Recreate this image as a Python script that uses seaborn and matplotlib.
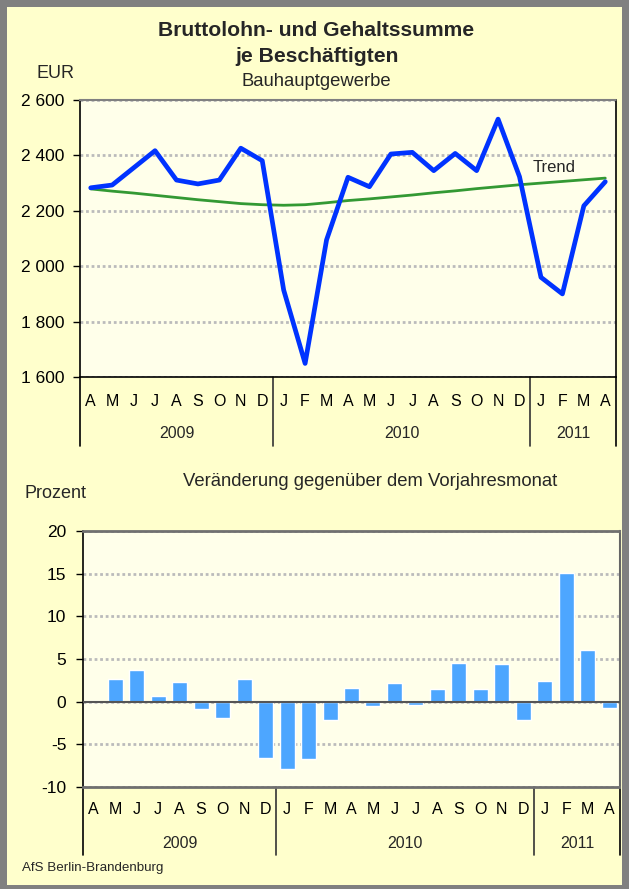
import numpy as np
import pandas as pd
import matplotlib
matplotlib.use("Agg")
import matplotlib.pyplot as plt
import seaborn as sns
from matplotlib.patches import Rectangle
from matplotlib.ticker import FuncFormatter

# ---- data ----
months = ["A", "M", "J", "J", "A", "S", "O", "N", "D",
          "J", "F", "M", "A", "M", "J", "J", "A", "S", "O", "N", "D",
          "J", "F", "M", "A"]
years = ["2009", "2010", "2011"]
year_counts = [9, 12, 4]
wages = [2283, 2293, 2355, 2417, 2311, 2297, 2311, 2426, 2381,
         1914, 1649, 2095, 2321, 2287, 2405, 2411, 2345, 2407, 2345, 2531, 2323,
         1960, 1900, 2218, 2305]
trend = [2279, 2271, 2264, 2256, 2248, 2240, 2233, 2226, 2222,
         2220, 2222, 2229, 2237, 2243, 2250, 2257, 2265, 2272, 2280, 2287, 2294,
         2300, 2306, 2312, 2318]
change = [0.1, 2.6, 3.7, 0.7, 2.3, -0.9, -1.9, 2.6, -6.6,
          -7.9, -6.7, -2.2, 1.6, -0.5, 2.2, -0.35, 1.5, 4.55, 1.5, 4.4, -2.1,
          2.45, 15.1, 6.1, -0.7]

sns.set_theme(style="white")
plt.rcParams['font.family'] = ['Liberation Sans', 'DejaVu Sans']
plt.rcParams['axes.unicode_minus'] = False

W, H = 629, 889
fig = plt.figure(figsize=(W / 100, H / 100), dpi=100, facecolor='#808080')
fig.patches.append(Rectangle((7 / W, 1 - 885 / H), 615 / W, 878 / H,
                             transform=fig.transFigure, facecolor='#FFFFCC',
                             edgecolor='none', zorder=-10))


def px_axes(left, top, right, bottom):
    return fig.add_axes([left / W, 1 - bottom / H, (right - left) / W, (bottom - top) / H])


def ftext(x, y, s, **kw):
    fig.text(x / W, 1 - y / H, s, **kw)


PLOT_BG = '#FFFFEA'
GRID = dict(color='#BBBBBB', linestyle=(0, (1, 1)), linewidth=2)

idx = np.arange(len(months))
df = pd.DataFrame({"idx": idx, "wages": wages, "trend": trend, "change": change})

# year group boundaries
bounds = np.concatenate([[-0.5], -0.5 + np.cumsum(year_counts)])
centers = (bounds[:-1] + bounds[1:]) / 2


def category_axis(ax, sep_len, year_y, pad):
    ax.set_xticks(idx)
    ax.set_xticklabels(months, fontsize=11.5)
    ax.tick_params(axis='x', length=0, pad=pad, colors='black', bottom=False)
    tr = ax.get_xaxis_transform()
    for i, b in enumerate(bounds):
        ax.plot([b, b], [0, -sep_len], transform=tr, clip_on=False,
                color='black' if i in (0, len(bounds) - 1) else '#333333', lw=1.2)
    for c, y in zip(centers, years):
        ax.text(c, year_y, y, transform=tr, ha='center', va='center', fontsize=11.5)
    ax.set_xlabel("")


# ---- top chart ----
ax1 = px_axes(80, 100, 616, 377)
ax1.set_facecolor(PLOT_BG)
sns.lineplot(data=df, x="idx", y="trend", color='#339933', lw=2, ax=ax1)
sns.lineplot(data=df, x="idx", y="wages", color='#0033FF', lw=3.4, ax=ax1)
ax1.set_xlim(-0.5, len(months) - 0.5)
ax1.set_ylim(1600, 2600)
ax1.set_yticks(np.arange(1600, 2601, 200))
ax1.yaxis.set_major_formatter(FuncFormatter(lambda v, p: f"{v:,.0f}".replace(",", " ")))
ax1.tick_params(axis='y', length=5, width=1, direction='out', left=True, pad=6,
                labelsize=12.5, colors='black')
ax1.yaxis.grid(True, **GRID)
ax1.set_axisbelow(True)
ax1.set_ylabel("")
for s in ['left', 'bottom', 'right']:
    ax1.spines[s].set_color('black')
    ax1.spines[s].set_linewidth(1.2)
ax1.spines['top'].set_color('#808080')
ax1.spines['top'].set_linestyle((0, (1, 1)))
ax1.spines['top'].set_linewidth(1.5)
category_axis(ax1, 69 / 277, -57 / 277, 12)
ax1.text(21.6, 2358, "Trend", ha='center', va='center', fontsize=12)

# ---- bottom chart ----
ax2 = px_axes(83, 531, 620, 787)
ax2.set_facecolor(PLOT_BG)
sns.barplot(data=df, x="idx", y="change", color='#4DA6FF', saturation=1,
            width=0.7, ax=ax2, zorder=2)
ax2.axhline(0, color='#555555', lw=1.5, zorder=3)
ax2.set_xlim(-0.5, len(months) - 0.5)
ax2.set_ylim(-10, 20)
ax2.set_yticks(np.arange(-10, 21, 5))
ax2.yaxis.set_major_formatter(FuncFormatter(lambda v, p: f"{v:.0f}"))
ax2.tick_params(axis='y', length=5, width=1, direction='out', left=True, pad=7,
                labelsize=12.5, colors='black')
ax2.yaxis.grid(True, **GRID)
ax2.set_axisbelow(True)
ax2.set_ylabel("")
ax2.spines['left'].set_color('black')
ax2.spines['left'].set_linewidth(1.2)
ax2.spines['right'].set_color('#666666')
ax2.spines['right'].set_linewidth(1.5)
for s in ['top', 'bottom']:
    ax2.spines[s].set_color('#707070')
    ax2.spines[s].set_linestyle((0, (1, 1)))
    ax2.spines[s].set_linewidth(2)
category_axis(ax2, 68 / 256, -57 / 256, 11)

# ---- texts ----
ftext(316, 30, "Bruttolohn- und Gehaltssumme", ha='center', va='center',
      fontsize=15.2, fontweight='bold')
ftext(317, 56, "je Beschäftigten", ha='center', va='center',
      fontsize=15.2, fontweight='bold')
ftext(316, 82, "Bauhauptgewerbe", ha='center', va='center', fontsize=13.3)
ftext(56, 74, "EUR", ha='center', va='center', fontsize=13)
ftext(25, 494, "Prozent", ha='left', va='center', fontsize=13)
ftext(370, 482, "Veränderung gegenüber dem Vorjahresmonat", ha='center',
      va='center', fontsize=13.3)
ftext(22, 868, "AfS Berlin-Brandenburg", ha='left', va='center', fontsize=9.6)

fig.savefig("out.png", dpi=100, facecolor=fig.get_facecolor())
